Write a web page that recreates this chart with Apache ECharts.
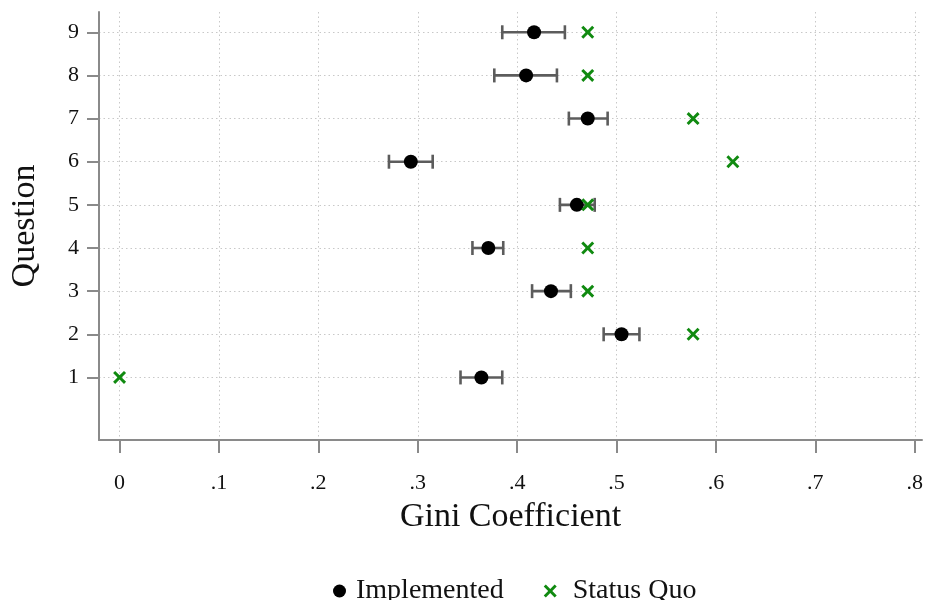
<!DOCTYPE html>
<html>
<head>
<meta charset="utf-8">
<script src="https://cdn.jsdelivr.net/npm/echarts@6/dist/echarts.min.js"></script>
<style>html,body{margin:0;padding:0;background:#fff;}#c{width:926px;height:600px;}</style>
</head>
<body>
<div id="c"></div>
<script>
const questions = [1, 2, 3, 4, 5, 6, 7, 8, 9];
const implemented = [0.364, 0.505, 0.434, 0.371, 0.460, 0.293, 0.471, 0.409, 0.417];
const ciLow = [0.343, 0.487, 0.415, 0.355, 0.443, 0.271, 0.452, 0.377, 0.385];
const ciHigh = [0.385, 0.523, 0.454, 0.386, 0.478, 0.315, 0.491, 0.440, 0.448];
const statusQuo = [0, 0.577, 0.471, 0.471, 0.471, 0.617, 0.577, 0.471, 0.471];
const xTicks = [0, 0.1, 0.2, 0.3, 0.4, 0.5, 0.6, 0.7, 0.8];
const xTickLabels = ['0', '.1', '.2', '.3', '.4', '.5', '.6', '.7', '.8'];
const yTicks = [1, 2, 3, 4, 5, 6, 7, 8, 9];

const FONT = 'Liberation Serif';
const X_PATH = 'path://M0,1.6 L1.6,0 L5,3.4 L8.4,0 L10,1.6 L6.6,5 L10,8.4 L8.4,10 L5,6.6 L1.6,10 L0,8.4 L3.4,5 Z';
const GREEN = '#108a10';

const chart = echarts.init(document.getElementById('c'), null, {renderer: 'canvas'});
const gridLine = {show: true, lineStyle: {color: '#c8c8c8', type: [1.5, 3], width: 1}};
const axisLineStyle = {color: '#8a8a8a', width: 2};

chart.setOption({
  animation: false,
  backgroundColor: '#fff',
  textStyle: {fontFamily: FONT},
  grid: {left: 97, right: 1, top: 12, bottom: 160, containLabel: false},
  legend: {
    left: 328, top: 572,
    itemGap: 40, itemWidth: 13, itemHeight: 13,
    textStyle: {fontFamily: FONT, fontSize: 28, color: '#111', padding: [0, 0, 0, 5]},
    data: [
      {name: 'Implemented', icon: 'circle', itemStyle: {color: '#000'}},
      {name: 'Status Quo', icon: X_PATH, itemStyle: {color: GREEN}, textStyle: {padding: [0, 0, 0, 11]}}
    ]
  },
  xAxis: {
    type: 'value', min: -0.0207, max: 0.8073,
    name: 'Gini Coefficient', nameLocation: 'middle', nameGap: 60, nameMoveOverlap: false,
    nameTextStyle: {fontFamily: FONT, fontSize: 34, color: '#111'},
    axisLine: {show: true, onZero: false, lineStyle: axisLineStyle},
    axisTick: {show: true, length: 13, customValues: xTicks, lineStyle: axisLineStyle},
    axisLabel: {
      customValues: xTicks, margin: 32,
      fontFamily: FONT, fontSize: 22, color: '#111',
      formatter: v => { const i = xTicks.findIndex(t => Math.abs(t - v) < 1e-6); return i >= 0 ? xTickLabels[i] : ''; }
    },
    splitLine: gridLine
  },
  yAxis: {
    type: 'value', min: -0.45, max: 9.47,
    name: 'Question', nameLocation: 'middle', nameGap: 57, nameMoveOverlap: false,
    nameTextStyle: {fontFamily: FONT, fontSize: 34, color: '#111'},
    axisLine: {show: true, onZero: false, lineStyle: axisLineStyle},
    axisTick: {show: true, length: 12, customValues: yTicks, lineStyle: axisLineStyle},
    axisLabel: {customValues: yTicks, margin: 20, fontFamily: FONT, fontSize: 22, color: '#111'},
    splitLine: gridLine
  },
  series: [
    {
      name: 'CI', type: 'custom', z: 2,
      data: questions.map((q, i) => [ciLow[i], ciHigh[i], q]),
      encode: {x: [0, 1], y: 2},
      renderItem: function (params, api) {
        const q = api.value(2);
        const a = api.coord([api.value(0), q]);
        const b = api.coord([api.value(1), q]);
        const h = 7;
        const st = {stroke: '#5c5c5c', lineWidth: 2.6};
        return {type: 'group', children: [
          {type: 'line', shape: {x1: a[0], y1: a[1], x2: b[0], y2: b[1]}, style: st},
          {type: 'line', shape: {x1: a[0], y1: a[1] - h, x2: a[0], y2: a[1] + h}, style: st},
          {type: 'line', shape: {x1: b[0], y1: b[1] - h, x2: b[0], y2: b[1] + h}, style: st}
        ]};
      }
    },
    {
      name: 'Implemented', type: 'scatter', z: 3,
      symbol: 'circle', symbolSize: 14,
      itemStyle: {color: '#000', opacity: 1},
      data: questions.map((q, i) => [implemented[i], q])
    },
    {
      name: 'Status Quo', type: 'scatter', z: 4,
      symbol: X_PATH, symbolSize: 13,
      itemStyle: {color: GREEN, opacity: 1},
      data: questions.map((q, i) => [statusQuo[i], q])
    }
  ]
});
</script>
</body>
</html>
